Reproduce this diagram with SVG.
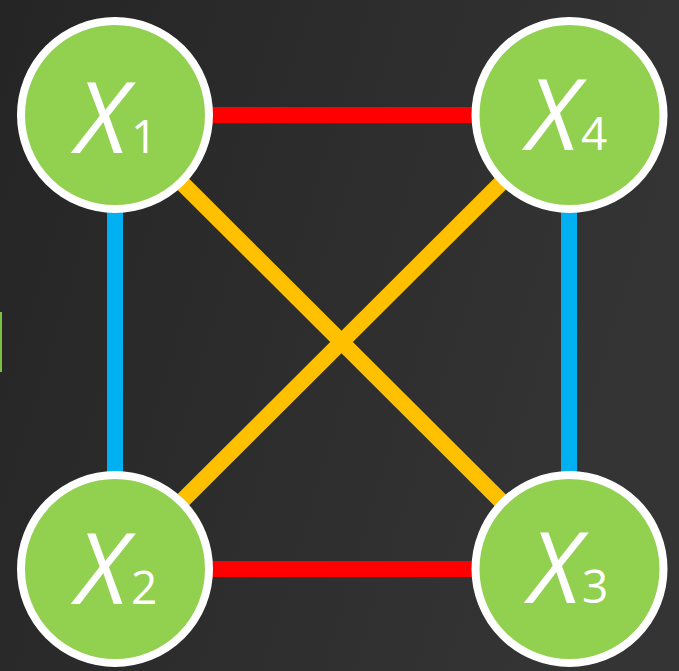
<svg xmlns="http://www.w3.org/2000/svg" width="679" height="671" viewBox="0 0 679 671">
<defs>
<linearGradient id="bg" x1="0" y1="0" x2="1" y2="0.3">
<stop offset="0" stop-color="#252525"/>
<stop offset="1" stop-color="#343434"/>
</linearGradient>
<style>
.node circle{fill:#92D050;stroke:#FFFFFF;stroke-width:8}
.lbl{font-family:"Open Sans","Liberation Sans",sans-serif;fill:#FFFFFF;font-style:italic;font-size:99px}
.sub{font-family:"Open Sans","Liberation Sans",sans-serif;fill:#FFFFFF;font-size:46px}
.edge{stroke-width:16;fill:none}
.red{stroke:#FF0000}
.blue{stroke:#00B0F0}
.yellow{stroke:#FFC000}
</style>
</defs>
<rect width="679" height="671" fill="url(#bg)"/>
<rect x="0" y="312" width="2" height="60" fill="#7AC143"/>
<g id="connectors">
<line class="edge red" x1="210" y1="115" x2="474" y2="115"/>
<line class="edge red" x1="210" y1="569" x2="474" y2="569"/>
<line class="edge blue" x1="115" y1="209" x2="115" y2="474"/>
<line class="edge blue" x1="569" y1="209" x2="569" y2="474"/>
<line class="edge yellow" x1="181" y1="182" x2="502" y2="502"/>
<line class="edge yellow" x1="502" y1="182" x2="181" y2="502"/>
</g>
<g id="X1" class="node">
<circle cx="115" cy="115" r="94"/>
<text class="lbl" x="76" y="153">X</text><text class="sub" x="131" y="153">1</text>
</g>
<g id="X4" class="node">
<circle cx="569.5" cy="115" r="94"/>
<text class="lbl" x="527" y="150">X</text><text class="sub" x="581" y="150">4</text>
</g>
<g id="X2" class="node">
<circle cx="115" cy="569" r="94"/>
<text class="lbl" x="76" y="604">X</text><text class="sub" x="131" y="604">2</text>
</g>
<g id="X3" class="node">
<circle cx="569.5" cy="569" r="94"/>
<text class="lbl" x="529" y="603">X</text><text class="sub" x="582" y="603">3</text>
</g>
</svg>
